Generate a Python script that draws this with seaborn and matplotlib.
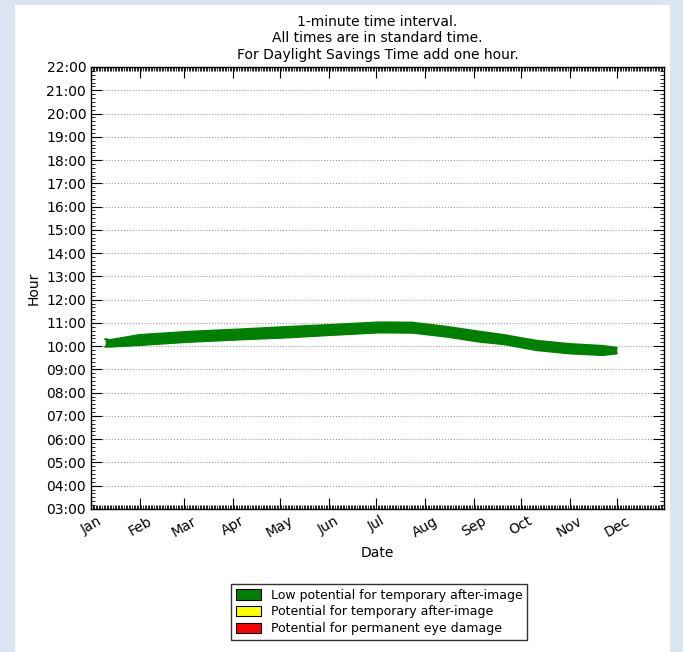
import matplotlib
matplotlib.use('Agg')
import matplotlib.pyplot as plt
import matplotlib.dates as mdates
from matplotlib.patches import Rectangle, Patch
from matplotlib.ticker import FixedLocator, FuncFormatter, MultipleLocator
import pandas as pd
import seaborn as sns

# glare band (hours, standard time)
band_dates = ['2013-01-10', '2013-01-13', '2013-02-01', '2013-03-05', '2013-04-06',
              '2013-05-07', '2013-06-02', '2013-07-03', '2013-07-24', '2013-08-15',
              '2013-09-05', '2013-09-20', '2013-10-11', '2013-11-01', '2013-11-22',
              '2013-12-01']
band_low = [9.98, 9.98, 10.05, 10.19, 10.29, 10.38, 10.48, 10.59, 10.58, 10.41,
            10.19, 10.09, 9.83, 9.69, 9.62, 9.69]
band_high = [10.30, 10.26, 10.48, 10.62, 10.72, 10.83, 10.91, 11.02, 11.01, 10.83,
             10.62, 10.48, 10.23, 10.09, 10.01, 9.93]

hour_ticks = list(range(3, 23))
month_labels = ['Jan', 'Feb', 'Mar', 'Apr', 'May', 'Jun',
                'Jul', 'Aug', 'Sep', 'Oct', 'Nov', 'Dec']
legend_labels = ['Low potential for temporary after-image',
                 'Potential for temporary after-image',
                 'Potential for permanent eye damage']
legend_colors = ['green', 'yellow', 'red']

df = pd.DataFrame({'date': pd.to_datetime(band_dates),
                   'low': band_low, 'high': band_high})

sns.set_style('ticks')
plt.rcParams['font.family'] = ['DejaVu Sans']
plt.rcParams['xtick.direction'] = 'in'
plt.rcParams['ytick.direction'] = 'in'
for key in ['text.color', 'axes.labelcolor', 'xtick.color', 'ytick.color']:
    plt.rcParams[key] = 'black'

fig = plt.figure(figsize=(6.83, 6.52), dpi=100, facecolor='#dbe5f1')
fig.add_artist(Rectangle((15 / 683, 0), 655 / 683, 647 / 652,
                         transform=fig.transFigure, facecolor='white',
                         edgecolor='none', zorder=0))

ax = fig.add_axes([91 / 683, 1 - 509 / 652, 573 / 683, 442 / 652])

ax.fill_between(df['date'], df['low'], df['high'], color='green', lw=0)
sns.lineplot(data=df, x='date', y='low', color='green', lw=1.5, ax=ax)
sns.lineplot(data=df, x='date', y='high', color='green', lw=1.5, ax=ax)

ax.set_xlim(pd.Timestamp('2013-01-01'), pd.Timestamp('2013-12-31'))
ax.set_ylim(3, 22)

ax.xaxis.set_major_locator(mdates.MonthLocator())
ax.xaxis.set_minor_locator(mdates.DayLocator())
ax.set_xticklabels(month_labels, rotation=30, fontsize=10)

ax.yaxis.set_major_locator(FixedLocator(hour_ticks))
ax.yaxis.set_minor_locator(MultipleLocator(1 / 6))
ax.yaxis.set_major_formatter(FuncFormatter(lambda v, p: f'{int(round(v)):02d}:00'))
ax.tick_params(axis='y', labelsize=10)

ax.tick_params(which='major', length=8, width=0.8, top=True, right=True)
ax.tick_params(which='minor', length=3, width=0.6, top=True, right=True)
for s in ax.spines.values():
    s.set_linewidth(1.0)
    s.set_color('black')

ax.grid(axis='y', linestyle=':', color='#999999', lw=0.8)
ax.grid(axis='x', visible=False)

ax.set_xlabel('Date', fontsize=10)
ax.set_ylabel('Hour', fontsize=10)
ax.set_title('1-minute time interval.\nAll times are in standard time.\n'
             'For Daylight Savings Time add one hour.', fontsize=10)

handles = [Patch(facecolor=c, edgecolor='black', lw=0.8) for c in legend_colors]
fig.legend(handles, legend_labels, loc='center',
           bbox_to_anchor=(379 / 683, 1 - 612 / 652), fontsize=9,
           frameon=True, fancybox=False, edgecolor='black',
           handlelength=2.0, handleheight=0.9, borderpad=0.4, labelspacing=0.3)

fig.savefig('out.png', dpi=100, facecolor=fig.get_facecolor())
